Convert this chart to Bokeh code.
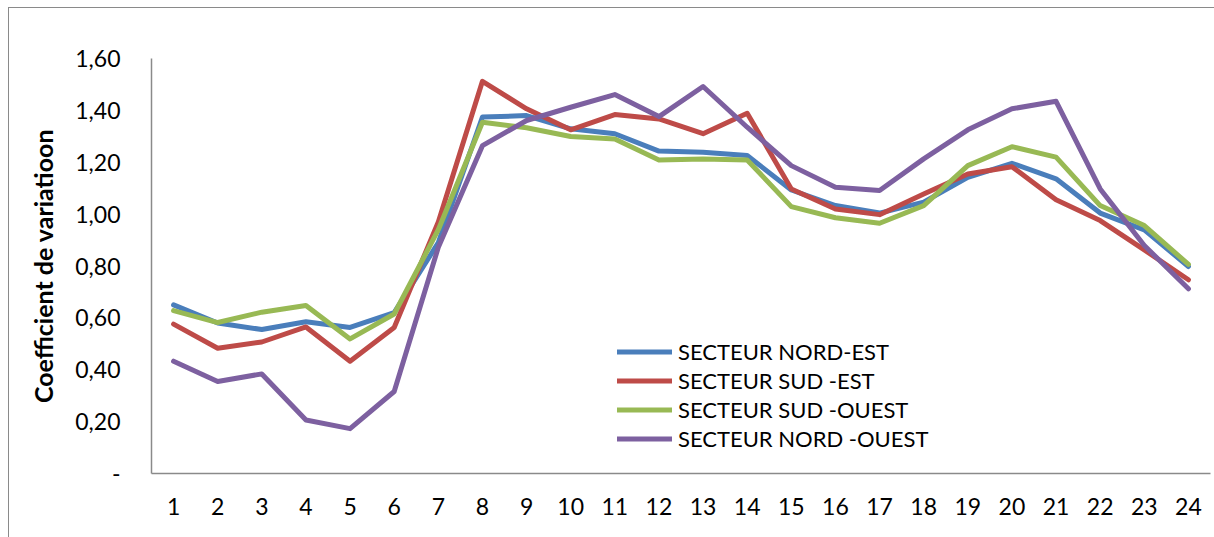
from bokeh.plotting import figure
from bokeh.models import FixedTicker, Legend, LegendItem, Range1d
from bokeh.embed import file_html
from bokeh.resources import INLINE

hours = list(range(1, 25))
nord_est = [0.65, 0.58, 0.555, 0.585, 0.563, 0.62, 0.89, 1.374, 1.38, 1.329, 1.31, 1.243, 1.239, 1.226,
            1.093, 1.033, 1.004, 1.046, 1.142, 1.196, 1.136, 1.004, 0.939, 0.798]
sud_est = [0.576, 0.483, 0.507, 0.565, 0.433, 0.563, 0.97, 1.512, 1.406, 1.325, 1.384, 1.367, 1.31, 1.389,
           1.097, 1.02, 0.998, 1.078, 1.155, 1.183, 1.055, 0.975, 0.862, 0.747]
sud_ouest = [0.628, 0.582, 0.622, 0.648, 0.519, 0.615, 0.94, 1.354, 1.333, 1.299, 1.29, 1.209, 1.213, 1.209,
             1.029, 0.986, 0.965, 1.033, 1.187, 1.26, 1.22, 1.033, 0.956, 0.806]
nord_ouest = [0.433, 0.355, 0.384, 0.206, 0.173, 0.316, 0.872, 1.264, 1.361, 1.412, 1.461, 1.376, 1.492, 1.335,
              1.187, 1.104, 1.091, 1.213, 1.325, 1.406, 1.435, 1.097, 0.879, 0.712]

series_names = ["SECTEUR NORD-EST", "SECTEUR SUD -EST", "SECTEUR SUD -OUEST", "SECTEUR NORD -OUEST"]
series_values = [nord_est, sud_est, sud_ouest, nord_ouest]
colors = ["#4A7EBB", "#BE4B48", "#98B954", "#7D60A0"]

y_ticks = [0, 0.2, 0.4, 0.6, 0.8, 1.0, 1.2, 1.4, 1.6]
y_tick_labels = ["-", "0,20", "0,40", "0,60", "0,80", "1,00", "1,20", "1,40", "1,60"]

FONT = "Lato"
W, H = 1214, 537
left, right, top, bottom = 151, 4, 58, 64
frame_w = W - left - right
px_per_unit = 44.125
x_end = 0.5 + frame_w / px_per_unit

p = figure(width=W, height=H, output_backend="svg", toolbar_location=None,
           x_range=Range1d(0.5, x_end), y_range=Range1d(0, 1.6),
           min_border_left=left, min_border_right=right, min_border_top=top, min_border_bottom=bottom)
p.border_fill_color = "white"
p.background_fill_color = "white"
p.outline_line_color = None
p.xgrid.visible = False
p.ygrid.visible = False

items = []
for name, vals, c in zip(series_names, series_values, colors):
    r = p.line(hours, vals, line_color=c, line_width=5, line_join="round", line_cap="round")
    items.append(LegendItem(label=name, renderers=[r]))

p.xaxis.ticker = FixedTicker(ticks=hours)
p.yaxis.ticker = FixedTicker(ticks=y_ticks)
p.yaxis.major_label_overrides = {t: l for t, l in zip(y_ticks, y_tick_labels)}
for ax in (p.xaxis[0], p.yaxis[0]):
    ax.axis_line_color = "#8a8a8a"
    ax.axis_line_width = 1.5
    ax.major_tick_line_color = None
    ax.minor_tick_line_color = None
    ax.major_tick_out = 0
    ax.major_tick_in = 0
    ax.major_label_text_font = FONT
    ax.major_label_text_font_size = "23px"
    ax.major_label_text_color = "black"
p.xaxis.major_label_standoff = 24
p.yaxis.major_label_standoff = 31
p.yaxis.axis_label = "Coefficient de variatioon"
p.yaxis.axis_label_text_font = FONT
p.yaxis.axis_label_text_font_size = "25px"
p.yaxis.axis_label_text_font_style = "bold"
p.yaxis.axis_label_text_color = "black"
p.yaxis.axis_label_standoff = 14

legend = Legend(items=items, location=(466, 21), padding=0, margin=0,
                border_line_color=None, background_fill_alpha=0,
                glyph_width=55, glyph_height=21, label_height=21, spacing=2,
                label_standoff=6, label_text_font=FONT, label_text_font_size="22px",
                label_text_color="black")
p.add_layout(legend)

html = file_html(p, INLINE)
# outer chart-area border (its right and bottom edges lie outside the visible window)
border_div = ('<div style="position:absolute;left:8px;top:7px;right:0;bottom:0;'
              'border-left:1.5px solid #8a8a8a;border-top:1.5px solid #8a8a8a;'
              'pointer-events:none;z-index:10;"></div>')
html = html.replace("</body>", border_div + "\n</body>")
open("out.html", "w").write(html)
